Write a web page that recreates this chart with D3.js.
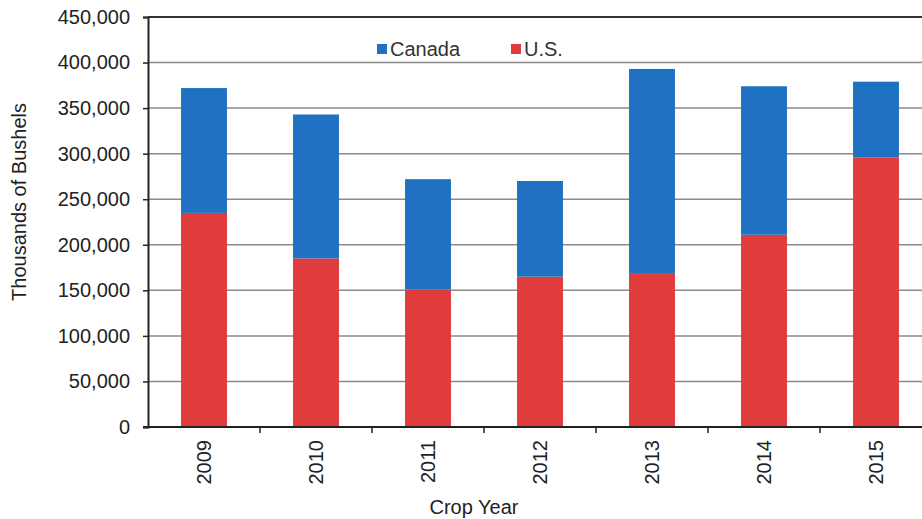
<!DOCTYPE html>
<html>
<head>
<meta charset="utf-8">
<script src="https://cdn.jsdelivr.net/npm/d3@7/dist/d3.min.js"></script>
<style>
  html, body { margin: 0; padding: 0; background: #fff; }
  svg { display: block; font-family: "Liberation Sans", Arial, sans-serif; }
</style>
</head>
<body>
<svg id="chart" width="922" height="519"></svg>
<script>
// Crop years and bushel totals (thousands of bushels)
const years = ["2009", "2010", "2011", "2012", "2013", "2014", "2015"];
const usValues = [235000, 185000, 151000, 165000, 169000, 211000, 296000];
const canadaValues = [137000, 158000, 121000, 105000, 224000, 163000, 83000];
const yTicks = [0, 50000, 100000, 150000, 200000, 250000, 300000, 350000, 400000, 450000];
const seriesNames = ["U.S.", "Canada"];

const colors = { "U.S.": "#e03c3e", "Canada": "#1f72c2" };

const svg = d3.select("#chart");
const margin = { left: 148, top: 17, bottom: 92 };
const plotBottom = 519 - margin.bottom;

const x = d3.scaleBand()
  .domain(years)
  .range([margin.left, margin.left + 112 * years.length])
  .paddingInner(0.59)
  .paddingOuter(0.295);

const y = d3.scaleLinear()
  .domain([0, 450000])
  .range([plotBottom, margin.top]);

const rows = years.map((yr, i) => ({ year: yr, "U.S.": usValues[i], "Canada": canadaValues[i] }));
const stacked = d3.stack().keys(seriesNames)(rows);

// Horizontal gridlines
svg.append("g")
  .selectAll("line")
  .data(yTicks.filter(t => t > 0))
  .join("line")
  .attr("x1", margin.left)
  .attr("x2", 922)
  .attr("y1", d => y(d))
  .attr("y2", d => y(d))
  .attr("stroke", d => d === 450000 ? "#333" : "#8a8a8a")
  .attr("stroke-width", d => d === 450000 ? 2 : 1.5);

// Stacked bars
svg.append("g")
  .selectAll("g")
  .data(stacked)
  .join("g")
  .attr("fill", d => colors[d.key])
  .selectAll("rect")
  .data(d => d)
  .join("rect")
  .attr("x", d => x(d.data.year))
  .attr("width", x.bandwidth())
  .attr("y", d => y(d[1]))
  .attr("height", d => y(d[0]) - y(d[1]));

// Y axis
const yAxis = d3.axisLeft(y)
  .tickValues(yTicks)
  .tickFormat(d3.format(","))
  .tickSize(5)
  .tickPadding(13);
const gy = svg.append("g")
  .attr("transform", `translate(${margin.left},0)`)
  .call(yAxis);
gy.select(".domain").attr("stroke", "#222").attr("stroke-width", 2);
gy.selectAll(".tick line").attr("stroke", "#222").attr("stroke-width", 1.5);
gy.selectAll(".tick text")
  .attr("font-size", 20)
  .attr("fill", "#222")
  .attr("font-family", "Liberation Sans, Arial, sans-serif");

// X axis baseline and category boundary ticks
svg.append("line")
  .attr("x1", margin.left - 5)
  .attr("x2", 922)
  .attr("y1", plotBottom)
  .attr("y2", plotBottom)
  .attr("stroke", "#222")
  .attr("stroke-width", 2);

svg.append("g")
  .selectAll("line")
  .data(years.slice(1))
  .join("line")
  .attr("x1", d => x(d) - x.step() * x.paddingInner() / 2)
  .attr("x2", d => x(d) - x.step() * x.paddingInner() / 2)
  .attr("y1", plotBottom)
  .attr("y2", plotBottom + 6)
  .attr("stroke", "#222")
  .attr("stroke-width", 1.5);

// Rotated year labels
svg.append("g")
  .selectAll("text")
  .data(years)
  .join("text")
  .attr("transform", d => `translate(${x(d) + x.bandwidth() / 2 + 7},${plotBottom + 13}) rotate(-90)`)
  .attr("text-anchor", "end")
  .attr("font-size", 20)
  .attr("fill", "#222")
  .text(d => d);

// Axis titles
svg.append("text")
  .attr("x", 474)
  .attr("y", 514)
  .attr("text-anchor", "middle")
  .attr("font-size", 20)
  .attr("fill", "#222")
  .text("Crop Year");

svg.append("text")
  .attr("transform", "translate(26,202) rotate(-90)")
  .attr("text-anchor", "middle")
  .attr("font-size", 20)
  .attr("fill", "#222")
  .text("Thousands of Bushels");

// Legend
const legendItems = [
  { name: "Canada", x: 377 },
  { name: "U.S.", x: 511 }
];
const legend = svg.append("g");
legend.selectAll("rect")
  .data(legendItems)
  .join("rect")
  .attr("x", d => d.x)
  .attr("y", 44)
  .attr("width", 10)
  .attr("height", 10)
  .attr("fill", d => colors[d.name]);
legend.selectAll("text")
  .data(legendItems)
  .join("text")
  .attr("x", d => d.x + 13)
  .attr("y", 56)
  .attr("font-size", 20)
  .attr("fill", "#333")
  .text(d => d.name);
</script>
</body>
</html>
